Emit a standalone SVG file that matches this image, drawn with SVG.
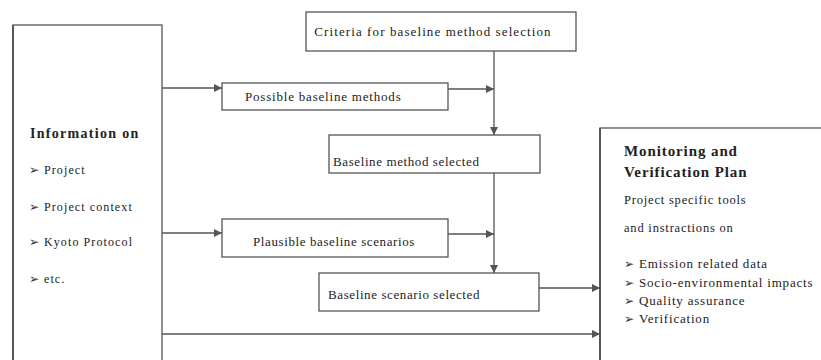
<svg xmlns="http://www.w3.org/2000/svg" width="821" height="360" viewBox="0 0 821 360">
<style>
.box{fill:#fff;stroke:#555;stroke-width:1.3}
.edge{stroke:#555;stroke-width:2}
.t{font-family:"Liberation Serif","DejaVu Serif",serif;fill:#222}
.n{font-size:13px;letter-spacing:0.6px}
.h{font-size:14px;font-weight:bold;letter-spacing:1.3px}
.h2{font-size:15px;font-weight:bold;letter-spacing:0.9px}
.li{font-size:12px;letter-spacing:1.1px}
.mi{font-size:12.5px;letter-spacing:0.8px}
.mb{font-size:13px;letter-spacing:0.8px}
.b{font-family:"DejaVu Sans",sans-serif;font-size:12px;fill:#333}
.c{stroke:#555;stroke-width:1.3;fill:none}
</style>
<defs>
<marker id="ah" viewBox="0 0 10 10" refX="10" refY="5" markerWidth="8" markerHeight="8" markerUnits="userSpaceOnUse" orient="auto">
<path d="M0,0 L10,5 L0,10 Z" fill="#555"/>
</marker>
</defs>
<rect width="821" height="360" fill="#fff"/>
<g id="info">
<rect class="box" x="13" y="25" width="149" height="345"/>
<line class="edge" x1="13" y1="25" x2="13" y2="360"/>
<text class="t h" x="30" y="138">Information on</text>
<text class="b" x="29" y="174">➢</text><text class="t li" x="44" y="174">Project</text>
<text class="b" x="29" y="211">➢</text><text class="t li" x="44" y="211">Project context</text>
<text class="b" x="29" y="246">➢</text><text class="t li" x="44" y="246">Kyoto Protocol</text>
<text class="b" x="29" y="283">➢</text><text class="t li" x="44" y="283">etc.</text>
</g>
<g id="criteria">
<rect class="box" x="306" y="12" width="270" height="39"/>
<text class="t n" x="433" y="36" text-anchor="middle" style="letter-spacing:1.1px">Criteria for baseline method selection</text>
</g>
<g id="possible">
<rect class="box" x="222" y="83" width="226" height="27"/>
<text class="t n" x="245" y="101" style="letter-spacing:0.8px">Possible baseline methods</text>
</g>
<g id="method-selected">
<rect class="box" x="329" y="135" width="211" height="38"/>
<text class="t n" x="333" y="166">Baseline method selected</text>
</g>
<g id="plausible">
<rect class="box" x="222" y="219" width="226" height="38"/>
<text class="t n" x="253" y="246">Plausible baseline scenarios</text>
</g>
<g id="scenario-selected">
<rect class="box" x="319" y="273" width="220" height="38"/>
<text class="t n" x="328" y="299">Baseline scenario selected</text>
</g>
<g id="monitoring">
<rect class="box" x="600" y="128" width="240" height="250"/>
<line class="edge" x1="600" y1="128" x2="600" y2="360"/>
<text class="t h2" x="624" y="156">Monitoring and</text>
<text class="t h2" x="624" y="177">Verification Plan</text>
<text class="t mi" x="624" y="204">Project specific tools</text>
<text class="t mi" x="624" y="232">and instractions on</text>
<text class="b" x="624" y="268">➢</text><text class="t mb" x="639" y="268">Emission related data</text>
<text class="b" x="624" y="287">➢</text><text class="t mb" x="639" y="287">Socio-environmental impacts</text>
<text class="b" x="624" y="305">➢</text><text class="t mb" x="639" y="305">Quality assurance</text>
<text class="b" x="624" y="323">➢</text><text class="t mb" x="639" y="323">Verification</text>
</g>
<g id="connectors">
<line class="c" x1="162" y1="88" x2="222" y2="88" marker-end="url(#ah)"/>
<line class="c" x1="162" y1="233" x2="222" y2="233" marker-end="url(#ah)"/>
<line class="c" x1="162" y1="334" x2="600" y2="334" marker-end="url(#ah)"/>
<line class="c" x1="494" y1="51" x2="494" y2="135" marker-end="url(#ah)"/>
<line class="c" x1="448" y1="89" x2="494" y2="89" marker-end="url(#ah)"/>
<line class="c" x1="494" y1="173" x2="494" y2="273" marker-end="url(#ah)"/>
<line class="c" x1="448" y1="234" x2="494" y2="234" marker-end="url(#ah)"/>
<line class="c" x1="539" y1="288" x2="600" y2="288" marker-end="url(#ah)"/>
</g>
</svg>
